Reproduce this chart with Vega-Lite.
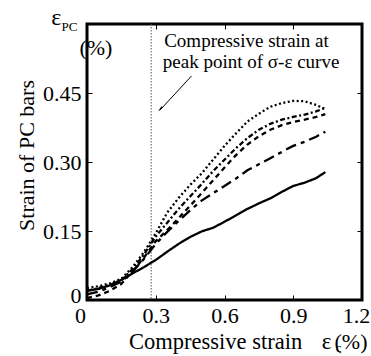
{
  "$schema": "https://vega.github.io/schema/vega-lite/v6.json",
  "width": 275,
  "height": 276,
  "autosize": {"type": "none"},
  "padding": {"left": 87, "top": 24, "right": 9, "bottom": 56},
  "background": "white",
  "config": {
    "view": {"stroke": "black", "strokeWidth": 3},
    "font": "Liberation Serif",
    "text": {"font": "Liberation Serif"},
    "axis": {"labelFont": "Liberation Serif", "titleFont": "Liberation Serif", "labelColor": "black", "titleColor": "black", "tickColor": "black", "grid": false, "domain": false}
  },
  "datasets": {
    "curves": [
      {"s":"A","x":0,"y":0.026},{"s":"A","x":0.05,"y":0.03},{"s":"A","x":0.1,"y":0.036},{"s":"A","x":0.15,"y":0.046},{"s":"A","x":0.2,"y":0.072},{"s":"A","x":0.25,"y":0.105},{"s":"A","x":0.3,"y":0.145},{"s":"A","x":0.35,"y":0.19},{"s":"A","x":0.4,"y":0.222},{"s":"A","x":0.45,"y":0.25},{"s":"A","x":0.5,"y":0.275},{"s":"A","x":0.55,"y":0.305},{"s":"A","x":0.6,"y":0.335},{"s":"A","x":0.65,"y":0.362},{"s":"A","x":0.7,"y":0.388},{"s":"A","x":0.75,"y":0.405},{"s":"A","x":0.8,"y":0.42},{"s":"A","x":0.85,"y":0.428},{"s":"A","x":0.9,"y":0.433},{"s":"A","x":0.95,"y":0.432},{"s":"A","x":1.0,"y":0.424},{"s":"A","x":1.04,"y":0.415},
      {"s":"B","x":0,"y":0.02},{"s":"B","x":0.05,"y":0.026},{"s":"B","x":0.1,"y":0.033},{"s":"B","x":0.15,"y":0.043},{"s":"B","x":0.2,"y":0.068},{"s":"B","x":0.25,"y":0.1},{"s":"B","x":0.3,"y":0.138},{"s":"B","x":0.35,"y":0.168},{"s":"B","x":0.4,"y":0.198},{"s":"B","x":0.45,"y":0.225},{"s":"B","x":0.5,"y":0.252},{"s":"B","x":0.55,"y":0.28},{"s":"B","x":0.6,"y":0.305},{"s":"B","x":0.65,"y":0.33},{"s":"B","x":0.7,"y":0.352},{"s":"B","x":0.75,"y":0.37},{"s":"B","x":0.8,"y":0.383},{"s":"B","x":0.85,"y":0.392},{"s":"B","x":0.9,"y":0.398},{"s":"B","x":0.95,"y":0.403},{"s":"B","x":1.0,"y":0.41},{"s":"B","x":1.04,"y":0.418},
      {"s":"C","x":0,"y":0.004},{"s":"C","x":0.05,"y":0.01},{"s":"C","x":0.1,"y":0.02},{"s":"C","x":0.15,"y":0.035},{"s":"C","x":0.2,"y":0.063},{"s":"C","x":0.25,"y":0.093},{"s":"C","x":0.3,"y":0.128},{"s":"C","x":0.35,"y":0.152},{"s":"C","x":0.4,"y":0.178},{"s":"C","x":0.45,"y":0.205},{"s":"C","x":0.5,"y":0.232},{"s":"C","x":0.55,"y":0.26},{"s":"C","x":0.6,"y":0.288},{"s":"C","x":0.65,"y":0.315},{"s":"C","x":0.7,"y":0.338},{"s":"C","x":0.75,"y":0.356},{"s":"C","x":0.8,"y":0.37},{"s":"C","x":0.85,"y":0.38},{"s":"C","x":0.9,"y":0.387},{"s":"C","x":0.95,"y":0.392},{"s":"C","x":1.0,"y":0.398},{"s":"C","x":1.04,"y":0.404},
      {"s":"D","x":0,"y":0.012},{"s":"D","x":0.05,"y":0.018},{"s":"D","x":0.1,"y":0.028},{"s":"D","x":0.15,"y":0.04},{"s":"D","x":0.2,"y":0.062},{"s":"D","x":0.25,"y":0.09},{"s":"D","x":0.3,"y":0.122},{"s":"D","x":0.35,"y":0.148},{"s":"D","x":0.4,"y":0.172},{"s":"D","x":0.45,"y":0.195},{"s":"D","x":0.5,"y":0.216},{"s":"D","x":0.55,"y":0.232},{"s":"D","x":0.6,"y":0.248},{"s":"D","x":0.65,"y":0.264},{"s":"D","x":0.7,"y":0.282},{"s":"D","x":0.75,"y":0.295},{"s":"D","x":0.8,"y":0.308},{"s":"D","x":0.85,"y":0.322},{"s":"D","x":0.9,"y":0.335},{"s":"D","x":0.95,"y":0.344},{"s":"D","x":1.0,"y":0.355},{"s":"D","x":1.04,"y":0.366},
      {"s":"E","x":0,"y":0.02},{"s":"E","x":0.05,"y":0.024},{"s":"E","x":0.1,"y":0.032},{"s":"E","x":0.15,"y":0.044},{"s":"E","x":0.2,"y":0.058},{"s":"E","x":0.25,"y":0.072},{"s":"E","x":0.3,"y":0.087},{"s":"E","x":0.35,"y":0.105},{"s":"E","x":0.4,"y":0.122},{"s":"E","x":0.45,"y":0.137},{"s":"E","x":0.5,"y":0.149},{"s":"E","x":0.55,"y":0.157},{"s":"E","x":0.6,"y":0.17},{"s":"E","x":0.65,"y":0.184},{"s":"E","x":0.7,"y":0.198},{"s":"E","x":0.75,"y":0.21},{"s":"E","x":0.8,"y":0.221},{"s":"E","x":0.85,"y":0.235},{"s":"E","x":0.9,"y":0.248},{"s":"E","x":0.95,"y":0.255},{"s":"E","x":1.0,"y":0.265},{"s":"E","x":1.04,"y":0.278}
    ]
  },
  "resolve": {"axis": {"x": "independent", "y": "independent"}},
  "layer": [
    {
      "data": {"values": [{"x": 0.28}]},
      "mark": {"type": "rule", "color": "#555", "strokeWidth": 1, "strokeDash": [1.5, 1.5]},
      "encoding": {
        "x": {"field": "x", "type": "quantitative", "scale": {"domain": [0, 1.2], "nice": false},
          "axis": {"orient": "top", "values": [0.3, 0.6, 0.9], "labels": false, "title": null, "tickSize": -5, "tickWidth": 1}}
      }
    },
    {
      "data": {"name": "curves"},
      "mark": {"type": "line", "color": "black", "strokeWidth": 2.3},
      "encoding": {
        "x": {"field": "x", "type": "quantitative", "scale": {"domain": [0, 1.2], "nice": false},
          "axis": {"orient": "bottom", "values": [0, 0.3, 0.6, 0.9, 1.2], "labelExpr": "datum.value == 0 ? '0' : format(datum.value, '.1f')", "labelFontSize": 22, "labelPadding": 10, "tickSize": -5, "tickWidth": 1, "title": null, "labelFlush": false,
            "labelOffset": {"condition": [{"test": "datum.value == 0", "value": -7}, {"test": "datum.value >= 1.19", "value": -6}], "value": 0}}},
        "y": {"field": "y", "type": "quantitative", "scale": {"domain": [0, 0.6], "nice": false},
          "axis": {"orient": "left", "values": [0, 0.15, 0.3, 0.45], "labelExpr": "datum.value == 0 ? '0' : format(datum.value, '.2f')", "labelFontSize": 22, "labelPadding": 11, "tickSize": -5, "tickWidth": 1, "labelFlush": false,
            "labelOffset": {"condition": {"test": "datum.value == 0", "value": -5}, "value": 0},
            "title": "Strain of PC bars", "titleFontSize": 22, "titleFontWeight": "normal", "titleAngle": -90, "titleBaseline": "alphabetic", "titleAlign": "center", "titleX": -54, "titleY": 131}},
        "strokeDash": {"field": "s", "type": "nominal", "legend": null,
          "scale": {"domain": ["A", "B", "C", "D", "E"], "range": [[2, 2.5], [5, 2.5, 2, 2.5], [5, 4], [11, 5, 4, 5], [1, 0]]}}
      }
    },
    {
      "data": {"values": [{"x": 0}]},
      "mark": {"type": "rule", "opacity": 0},
      "encoding": {
        "y": {"field": "x", "type": "quantitative", "scale": {"domain": [0, 0.6], "nice": false},
          "axis": {"orient": "right", "values": [0.15, 0.3, 0.45], "labels": false, "title": null, "tickSize": -5, "tickWidth": 1}}
      }
    },
    {
      "data": {"values": [{"x": 0.456, "y": 0.487, "x2": 0.317, "y2": 0.412}]},
      "mark": {"type": "rule", "color": "black", "strokeWidth": 1},
      "encoding": {
        "x": {"field": "x", "type": "quantitative", "axis": null},
        "y": {"field": "y", "type": "quantitative", "axis": null},
        "x2": {"field": "x2"},
        "y2": {"field": "y2"}
      }
    },
    {
      "data": {"values": [{"x": 0.322, "y": 0.4165}]},
      "mark": {"type": "point", "shape": "wedge", "filled": true, "color": "black", "size": 50, "angle": 224, "opacity": 1},
      "encoding": {
        "x": {"field": "x", "type": "quantitative", "axis": null},
        "y": {"field": "y", "type": "quantitative", "axis": null}
      }
    },
    {
      "data": {"values": [
        {"x": 0.696, "y": 0.549, "t": "Compressive strain at"},
        {"x": 0.716, "y": 0.505, "t": "peak point of σ-ε curve"}
      ]},
      "mark": {"type": "text", "font": "Liberation Serif", "fontSize": 19, "color": "black", "baseline": "alphabetic", "align": "center"},
      "encoding": {
        "x": {"field": "x", "type": "quantitative", "axis": null},
        "y": {"field": "y", "type": "quantitative", "axis": null},
        "text": {"field": "t"}
      }
    },
    {
      "data": {"values": [
        {"x": 0.939, "y": -0.106, "t": "Compressive strain"}
      ]},
      "mark": {"type": "text", "font": "Liberation Serif", "fontSize": 22.5, "color": "black", "baseline": "alphabetic", "align": "right"},
      "encoding": {
        "x": {"field": "x", "type": "quantitative", "axis": null},
        "y": {"field": "y", "type": "quantitative", "axis": null},
        "text": {"field": "t"}
      }
    },
    {
      "data": {"values": [
        {"x": 1.045, "y": -0.106, "t": "ε"}
      ]},
      "mark": {"type": "text", "font": "Liberation Serif", "fontSize": 23, "color": "black", "baseline": "alphabetic", "align": "center"},
      "encoding": {
        "x": {"field": "x", "type": "quantitative", "axis": null},
        "y": {"field": "y", "type": "quantitative", "axis": null},
        "text": {"field": "t"}
      }
    },
    {
      "data": {"values": [
        {"x": 1.08, "y": -0.106, "t": "(%)"},
        {"x": -0.033, "y": 0.533, "t": "(%)"}
      ]},
      "mark": {"type": "text", "font": "Liberation Serif", "fontSize": 22, "color": "black", "baseline": "alphabetic", "align": "left"},
      "encoding": {
        "x": {"field": "x", "type": "quantitative", "axis": null},
        "y": {"field": "y", "type": "quantitative", "axis": null},
        "text": {"field": "t"}
      }
    },
    {
      "data": {"values": [
        {"x": -0.134, "y": 0.598, "t": "ε"}
      ]},
      "mark": {"type": "text", "font": "Liberation Serif", "fontSize": 24, "color": "black", "baseline": "alphabetic", "align": "center"},
      "encoding": {
        "x": {"field": "x", "type": "quantitative", "axis": null},
        "y": {"field": "y", "type": "quantitative", "axis": null},
        "text": {"field": "t"}
      }
    },
    {
      "data": {"values": [
        {"x": -0.077, "y": 0.584, "t": "PC"},
        {"x": 1.098, "y": -0.114, "t": "c"}
      ]},
      "mark": {"type": "text", "font": "Liberation Serif", "fontSize": 13, "color": "black", "baseline": "alphabetic", "align": "center"},
      "encoding": {
        "x": {"field": "x", "type": "quantitative", "axis": null},
        "y": {"field": "y", "type": "quantitative", "axis": null},
        "text": {"field": "t"}
      }
    }
  ]
}
